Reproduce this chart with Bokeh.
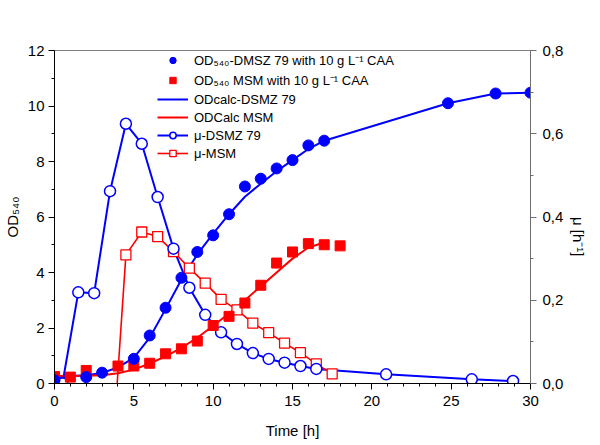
from bokeh.plotting import figure
from bokeh.models import (Range1d, LinearAxis, Legend, LegendItem, CustomJSTickFormatter,
                          Span, FixedTicker, Label)
from bokeh.embed import file_html
from bokeh.resources import INLINE
import math

# ---- data ----
t_od_dsmz = [0, 2, 3, 5, 6, 7, 8, 9, 10, 11, 12, 13, 14, 15, 16, 17, 24.8, 27.8, 30]
od_dsmz = [0.12, 0.23, 0.39, 0.89, 1.73, 2.73, 3.81, 4.74, 5.34, 6.1, 7.1, 7.38, 7.75,
           8.05, 8.58, 8.75, 10.1, 10.45, 10.48]

t_od_msm = [0, 1, 2, 4, 5, 6, 7, 8, 9, 10, 11, 12, 13, 14, 15, 16, 17, 18]
od_msm = [0.25, 0.23, 0.47, 0.63, 0.63, 0.73, 1.07, 1.25, 1.53, 2.09, 2.42, 2.9, 3.54,
          4.34, 4.74, 5.04, 5.0, 4.96]

t_fit_dsmz = [0, 0.5, 1, 2, 3, 4, 5, 6, 7, 8, 9, 10, 11, 12, 13, 14, 15, 16, 17, 24.8, 27.8, 30]
od_fit_dsmz = [0.12, 0.22, 0.27, 0.3, 0.38, 0.58, 0.92, 1.65, 2.68, 3.75, 4.65, 5.4, 6.1,
               6.73, 7.2, 7.65, 8.05, 8.45, 8.75, 10.1, 10.45, 10.48]

t_fit_msm = [0, 1, 2, 3, 4, 5, 6, 7, 8, 9, 10, 11, 12, 13, 14, 15, 16, 17]
od_fit_msm = [0.27, 0.27, 0.28, 0.3, 0.37, 0.5, 0.72, 0.98, 1.28, 1.65, 2.08, 2.52, 3.0,
              3.5, 4.0, 4.5, 4.9, 5.08]

t_mu_dsmz = [0.5, 1.5, 2.5, 3.5, 4.5, 5.5, 6.5, 7.5, 8.5, 9.5, 10.5, 11.5, 12.5, 13.5,
             14.5, 15.5, 16.5, 20.9, 26.3, 28.9]
mu_dsmz = [0.0, 0.219, 0.217, 0.462, 0.624, 0.576, 0.448, 0.324, 0.23, 0.165, 0.123,
           0.095, 0.073, 0.059, 0.05, 0.042, 0.035, 0.022, 0.01, 0.006]

t_mu_msm_start = [3.95]
mu_msm_start = [0.0]
t_mu_msm = [4.5, 5.5, 6.5, 7.5, 8.5, 9.5, 10.5, 11.5, 12.5, 13.5, 14.5, 15.5, 16.5, 17.5]
mu_msm = [0.309, 0.364, 0.353, 0.317, 0.277, 0.241, 0.202, 0.177, 0.145, 0.122, 0.097,
          0.074, 0.047, 0.023]

x_ticks = [0, 5, 10, 15, 20, 25, 30]
y_ticks = [0, 2, 4, 6, 8, 10, 12]
mu_ticks = [0.0, 0.2, 0.4, 0.6, 0.8]

labels = ["OD\u2085\u2084\u2080-DMSZ 79 with 10 g L\u207b\u00b9 CAA",
          "OD\u2085\u2084\u2080 MSM with 10 g L\u207b\u00b9 CAA",
          "ODcalc-DSMZ 79", "ODCalc MSM", "\u03bc-DSMZ 79", "\u03bc-MSM"]
mu_label = "\u03bc [h\u207b\u00b9]"

BLUE = "#0000FF"
RED = "#FF0000"
FONT = "Liberation Sans"

p = figure(width=598, height=443, x_range=Range1d(0, 30), y_range=Range1d(0, 12),
           output_backend="svg", toolbar_location=None,
           min_border_left=54, min_border_right=66, min_border_top=50, min_border_bottom=60)
p.extra_y_ranges = {"mu": Range1d(0, 0.8)}
p.xgrid.visible = False
p.ygrid.visible = False
p.outline_line_color = None
p.background_fill_color = "white"
p.border_fill_color = "white"

# fit lines
r_fit_b = p.line(t_fit_dsmz, od_fit_dsmz, line_color=BLUE, line_width=2)
r_fit_r = p.line(t_fit_msm, od_fit_msm, line_color=RED, line_width=2)

# mu lines
r_mu_b_line = p.line(t_mu_dsmz, mu_dsmz, line_color=BLUE, line_width=2, y_range_name="mu")
r_mu_r_line = p.line(t_mu_msm_start + t_mu_msm, mu_msm_start + mu_msm, line_color=RED,
                     line_width=1.6, y_range_name="mu")
r_mu_r_pts = p.scatter(t_mu_msm, mu_msm, marker="square", size=10, fill_color="white",
                       line_color=RED, line_width=1.3, y_range_name="mu")
r_mu_b_pts = p.scatter(t_mu_dsmz, mu_dsmz, marker="circle", size=11, fill_color="white",
                       line_color=BLUE, line_width=1.5, y_range_name="mu")

# OD points
r_od_r = p.scatter(t_od_msm, od_msm, marker="square", size=10, fill_color=RED,
                   line_color=RED)
r_od_b = p.scatter(t_od_dsmz, od_dsmz, marker="circle", size=11, fill_color=BLUE,
                   line_color=BLUE)

# top border line
p.add_layout(Span(location=12, dimension="width", line_color="black", line_width=1))

def style_axis(ax, color="black"):
    ax.axis_line_color = color
    ax.major_tick_line_color = color
    ax.minor_tick_line_color = color
    ax.major_tick_out = 6
    ax.major_tick_in = 0
    ax.minor_tick_out = 3
    ax.minor_tick_in = 0
    ax.major_label_text_font = FONT
    ax.major_label_text_font_size = "15px"
    ax.major_label_text_color = "black"
    ax.axis_label_text_font = FONT
    ax.axis_label_text_font_size = "15px"
    ax.axis_label_text_font_style = "normal"
    ax.axis_label_text_color = "black"

xa = p.xaxis[0]
xa.ticker = FixedTicker(ticks=x_ticks, minor_ticks=list(range(0, 31)))
xa.axis_label = "Time [h]"
style_axis(xa)
xa.major_label_standoff = 6
xa.axis_label_standoff = 13

ya = p.yaxis[0]
ya.ticker = FixedTicker(ticks=y_ticks, minor_ticks=list(range(0, 13)))
ya.axis_label = "OD\u2085\u2084\u2080"
style_axis(ya)
ya.major_label_standoff = 4
ya.axis_label_standoff = 4

ra = LinearAxis(y_range_name="mu")
ra.ticker = FixedTicker(ticks=mu_ticks, minor_ticks=[0.1, 0.3, 0.5, 0.7])
ra.formatter = CustomJSTickFormatter(code="return tick.toFixed(1).replace('.', ',');")
style_axis(ra, "#6e6e6e")
ra.major_label_standoff = 6
ra.axis_label = mu_label
ra.axis_label_orientation = -math.pi / 2
ra.axis_label_standoff = 12
p.add_layout(ra, "right")

legend = Legend(items=[
    LegendItem(label=labels[0], renderers=[r_od_b]),
    LegendItem(label=labels[1], renderers=[r_od_r]),
    LegendItem(label=labels[2], renderers=[r_fit_b]),
    LegendItem(label=labels[3], renderers=[r_fit_r]),
    LegendItem(label=labels[4], renderers=[r_mu_b_line, r_mu_b_pts]),
    LegendItem(label=labels[5], renderers=[r_mu_r_line, r_mu_r_pts]),
], location=(103, 222))
legend.border_line_color = None
legend.background_fill_alpha = 0
legend.padding = 0
legend.margin = 0
legend.spacing = 2
legend.glyph_width = 31
legend.glyph_height = 16
legend.label_height = 16
legend.label_standoff = 6
legend.label_text_font = FONT
legend.label_text_font_size = "13px"
legend.label_text_color = "black"
p.add_layout(legend, "center")

open("out.html", "w").write(file_html(p, INLINE))
